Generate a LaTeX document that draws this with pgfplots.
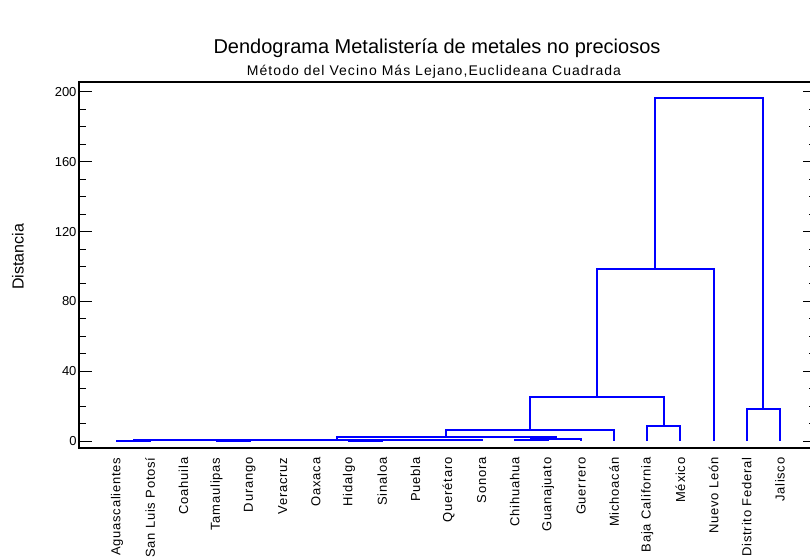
\documentclass[border=0pt]{standalone}
\usepackage{fontspec}
\setmainfont{Liberation Sans}
\newfontfamily\spacedfont[LetterSpace=7.5]{Liberation Sans}
\newfontfamily\labfont[LetterSpace=6]{Liberation Sans}
\usepackage{pgfplots}
\pgfplotsset{compat=1.18}
\definecolor{dendblue}{RGB}{0,0,255}
\tikzset{dend/.style={draw=dendblue, line width=2bp, no marks}}
\pgfplotstableread{
x y
7 0
7 0.2
8 0.2
8 0
nan nan
7.5 0.2
7.5 0.3
9 0.3
9 0
nan nan
8.25 0.3
8.25 0.4
10 0.4
10 0
nan nan
9.125 0.4
9.125 0.5
11 0.5
11 0
nan nan
0 0
0 0.15
1 0.15
1 0
nan nan
0.5 0.15
0.5 0.3
2 0.3
2 0
nan nan
3 0
3 0.2
4 0.2
4 0
nan nan
3.5 0.2
3.5 0.3
5 0.3
5 0
nan nan
4.25 0.3
4.25 0.4
6 0.4
6 0
nan nan
1.25 0.3
1.25 0.55
5.125 0.55
5.125 0.4
nan nan
3.1875 0.55
3.1875 0.8
10.0625 0.8
10.0625 0.5
nan nan
12 0
12 0.4
13 0.4
13 0
nan nan
12.5 0.4
12.5 1.0
14 1.0
14 0
nan nan
6.625 0.8
6.625 2.5
13.25 2.5
13.25 1.0
nan nan
9.9375 2.5
9.9375 6.5
15 6.5
15 0
nan nan
16 0
16 8.8
17 8.8
17 0
nan nan
12.46875 6.5
12.46875 25.0
16.5 25.0
16.5 8.8
nan nan
18 0
18 98.6
14.484375 98.6
14.484375 25.0
nan nan
19 0
19 18.3
20 18.3
20 0
nan nan
16.2421875 98.6
16.2421875 196.8
19.5 196.8
19.5 18.3
}\dendtable
\begin{document}
\begin{tikzpicture}
\path[use as bounding box] (0,0) rectangle (810bp,560bp);
\node[font=\fontsize{20bp}{22bp}\selectfont] at (437bp,512bp) {Dendograma Metalistería de metales no preciosos};
\node[font=\spacedfont\fontsize{14bp}{16bp}\selectfont] at (434bp,488bp) {Método del Vecino Más Lejano,Euclideana Cuadrada};
\begin{axis}[
  at={(79bp,112bp)}, anchor=south west,
  scale only axis, width=737bp, height=366bp,
  xmin=-1.15, xmax=21.09, ymin=-4.0, ymax=205.7,
  axis line style={line width=1.2bp},
  xtick={0,...,20},
  xticklabels={Aguascalientes,San Luis Potosí,Coahuila,Tamaulipas,Durango,Veracruz,Oaxaca,Hidalgo,Sinaloa,Puebla,Querétaro,Sonora,Chihuahua,Guanajuato,Guerrero,Michoacán,Baja California,México,Nuevo León,Distrito Federal,Jalisco},
  x tick style={draw=none},
  xticklabel style={rotate=90, anchor=east, font=\labfont\fontsize{13bp}{15bp}\selectfont, xshift=-6bp},
  ytick={0,40,...,200},
  minor y tick num=3,
  ytick pos=both,
  tick align=inside,
  major tick length=13bp, minor tick length=7bp,
  y tick style={line width=0.9bp, black},
  yticklabel style={font=\fontsize{13bp}{15bp}\selectfont, xshift=1bp},
  /pgf/number format/assume math mode=true,
  ylabel={Distancia},
  every axis y label/.style={at={(axis description cs:-0.0828,0.522)}, rotate=90, anchor=center, font=\fontsize{16bp}{18bp}\selectfont},
  clip=false,
  unbounded coords=jump,
]
\addplot[dend] table[x=x, y=y] {\dendtable};
\end{axis}
\end{tikzpicture}
\end{document}
